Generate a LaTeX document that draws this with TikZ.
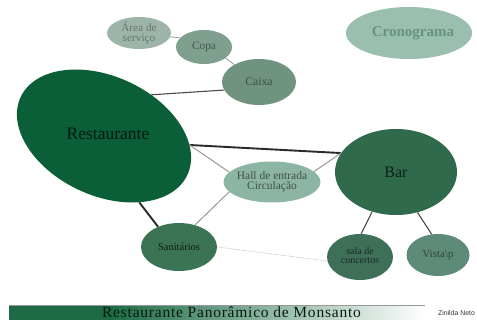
\documentclass[tikz,border=0pt]{standalone}
\usepackage{fontspec}
\setmainfont{Liberation Serif}
\setsansfont{Liberation Sans}
\usetikzlibrary{shapes.geometric}
\definecolor{cRest}{HTML}{0B5F38}
\definecolor{cBar}{HTML}{2F6A4C}
\definecolor{cSan}{HTML}{3A7455}
\definecolor{cSala}{HTML}{3E6F58}
\definecolor{cVista}{HTML}{5E8B78}
\definecolor{cCaixa}{HTML}{6F937F}
\definecolor{cCopa}{HTML}{7F9F8F}
\definecolor{cArea}{HTML}{9DB5A9}
\definecolor{cHall}{HTML}{8DB5A3}
\definecolor{cCrono}{HTML}{9ABFAE}
\definecolor{cLine}{HTML}{2A2A2A}
\definecolor{cBand}{HTML}{1C6B45}
\tikzset{
  blob/.style={ellipse,inner sep=-10pt,align=center,font=\fontsize{#1}{#1}\selectfont},
  blob/.default=10,
  heavy/.style={draw=cLine,line width=1.9pt},
  mid/.style={draw=cLine!85,line width=1.1pt},
  thin link/.style={draw=black!45,line width=0.7pt},
  pale/.style={draw=black!40,line width=1pt},
  faint/.style={draw=black!30,line width=0.7pt,densely dotted}
}
\begin{document}
\begin{tikzpicture}[x=1pt,y=-1pt]
\useasboundingbox (0,0) rectangle (477,320);
\fill[white] (0,0) rectangle (477,320);
% footer band
\fill[cBand] (9,306) rectangle (110,320);
\shade[left color=cBand,right color=white] (110,306) rectangle (425,320);
\draw[black!40,line width=0.5pt] (9,305.5) -- (425,305.5);
\node[font=\fontsize{15.5}{15.5}\selectfont\addfontfeatures{LetterSpace=5},text=black!75!cBand,inner sep=0pt] (foot) at (231.5,312.5) {Restaurante Panorâmico de Monsanto};
\node[font=\sffamily\fontsize{6.9}{6.9}\selectfont,text=black!80,inner sep=0pt] (auth) at (456.5,313.5) {Zinilda Neto};
% nodes
\node[blob=14,fill=cRest,minimum width=184pt,minimum height=119pt,rotate=-25] (rest) at (104,136) {};
\node[font=\fontsize{17.5}{17.5}\selectfont,text=black!75!cRest,inner sep=0pt] (restlabel) at (108,134) {Restaurante};
\node[blob=16,fill=cBar,text=black!70!cBar,minimum width=122pt,minimum height=86pt] (bar) at (396,172) {Bar};
\node[blob=11.5,fill=cHall,text=black!55!cHall,minimum width=97pt,minimum height=41pt] (hall) at (272,182) {\raisebox{-1pt}{\begin{tabular}{@{}c@{}}Hall de entrada\\[-1.5pt]Circulação\end{tabular}}};
\node[blob=10.5,fill=cSan,text=black!75!cSan,minimum width=76pt,minimum height=48pt] (san) at (179,247) {Sanitários};
\node[blob=10,fill=cSala,text=black!60!cSala,minimum width=66pt,minimum height=46pt] (sala) at (360,257) {\raisebox{-6pt}{\begin{tabular}{@{}c@{}}sala de\\[-1.5pt]concertos\end{tabular}}};
\node[blob=11,fill=cVista,text=black!50!cVista,minimum width=63pt,minimum height=42pt] (vista) at (438,255) {Vista\textbackslash p};
\node[blob=11.7,fill=cCaixa,text=black!45!cCaixa,minimum width=74pt,minimum height=46pt] (caixa) at (259,82) {Caixa};
\node[blob=11.3,fill=cCopa,text=black!45!cCopa,minimum width=56pt,minimum height=34pt] (copa) at (204,47) {Copa};
\node[blob=11.3,fill=cArea,text=black!35!cArea,minimum width=64pt,minimum height=32pt] (area) at (139,33) {\begin{tabular}{@{}c@{}}Área de\\[-1.5pt]serviço\end{tabular}};
\node[fill=cCrono,ellipse,inner sep=-10pt,text=cVista!85!cCrono,minimum width=126pt,minimum height=52pt,font=\bfseries\fontsize{15}{15}\selectfont] (crono) at (409,33) {\hspace{8pt}Cronograma};
% connectors
\draw[heavy] (rest.19) -- (bar.161);
\draw[heavy] (rest.-37) -- (san.136);
\draw[mid] (rest.66) -- (caixa.193);
\draw[pale] (rest.19) -- (hall.167);
\draw[pale] (hall.14) -- (bar.161);
\draw[pale] (hall.193) -- (san.54);
\draw[faint] (san.0) -- (sala.187);
\draw[mid] (bar.239) -- (sala.87);
\draw[mid] (bar.-62) -- (vista.107);
\draw[thin link] (area.-7) -- (copa.159);
\draw[thin link] (copa.-27) -- (caixa.145);
\end{tikzpicture}
\end{document}
